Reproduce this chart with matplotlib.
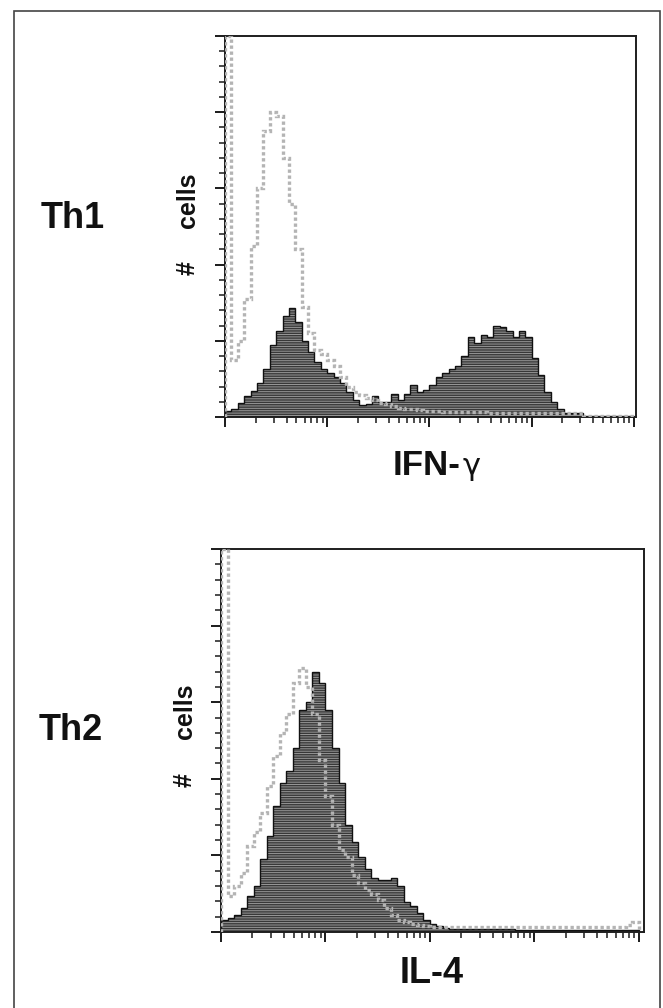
import numpy as np
import matplotlib
matplotlib.use("Agg")
import matplotlib.pyplot as plt
import matplotlib.patches as mpatches
from matplotlib.ticker import MultipleLocator, LogLocator, NullFormatter

plt.rcParams["font.family"] = ["Liberation Sans", "DejaVu Sans"]
plt.rcParams["hatch.linewidth"] = 0.7

# 64 channels over 4 log decades (10^0 .. 10^4); counts in % of axis height
N_BINS = 64

th1_ifng = [1.5, 2.0, 3.8, 5.5, 6.8, 9, 12.5, 19, 22.5, 26.5, 28.5, 25, 20, 17, 14.5, 12.5,
            11.5, 10.5, 9, 6.5, 4.5, 3.2, 3.5, 5.5, 4, 4, 6, 4.5, 6, 8.5, 6.5, 7,
            8.5, 10.5, 11.5, 12.5, 13.3, 16, 21, 19.5, 21.5, 21, 24, 23.5, 22.5, 21, 22.5, 21,
            15.5, 11, 6.5, 4, 2, 1, 1, 1, 0.3, 0.2, 0.2, 0.2, 0.2, 0.2, 0.2, 0.2]
th1_ctrl = [100, 15, 20, 31, 45, 60, 75, 80, 79, 68, 56, 44, 29, 22, 17.5, 16.5,
            15, 13.5, 10.5, 8, 6.5, 5.8, 5, 4.5, 3.8, 3.3, 2.8, 2.4, 2.2, 2, 1.8, 1.5,
            1.5, 1.5, 1.4, 1.4, 1.3, 1.3, 1.3, 1.2, 1.2, 1.0, 1.0, 1.0, 1.0, 1.0, 1.0, 1.0,
            1.0, 1.0, 1.0, 1.0, 1.0, 1.0, 1.0, 1.0, 0.3, 0.3, 0.3, 0.3, 0.3, 0.3, 0.3, 0.3]

th2_il4 = [3.2, 3.7, 4.5, 6.3, 9.3, 12, 19, 25, 33, 39, 42, 48, 58, 60, 68, 65,
           58, 48, 39, 28, 23.5, 19.5, 16.5, 14, 13.6, 13.6, 14, 12, 7.8, 6.7, 5, 3.2,
           2, 1.5, 1.1, 0.9, 0.8, 0.8, 0.7, 0.7, 0.7, 0.7, 0.7, 0.7, 0.7, 0.6, 0.6, 0.6,
           0.6, 0.6, 0.6, 0.6, 0.6, 0.6, 0.6, 0.6, 0.6, 0.6, 0.6, 0.6, 0.6, 0.6, 0.6, 0.6]
th2_ctrl = [100, 9.3, 12, 15.4, 22.5, 26, 31, 38, 46, 52, 57, 65, 69, 64, 57, 45,
            35.5, 28, 21.5, 19.5, 15, 12.7, 11, 10, 8.4, 6.2, 4.5, 3.2, 2.5, 2, 1.8, 1.6,
            1.3, 1.3, 1.3, 1.3, 1.3, 1.3, 1.3, 1.3, 1.3, 1.3, 1.3, 1.3, 1.3, 1.3, 1.3, 1.3,
            1.3, 1.3, 1.3, 1.3, 1.3, 1.3, 1.3, 1.3, 1.3, 1.3, 1.3, 1.3, 1.3, 1.3, 1.8, 2.5]

edges = np.logspace(0, 4, N_BINS + 1)


def draw_hist(ax, pos, ctrl, xmax):
    ax.stairs(pos, edges, fill=True, facecolor="#383838", edgecolor="none", zorder=2)
    ax.stairs(pos, edges, fill=True, facecolor="none", edgecolor="#999999",
              hatch="-------", linewidth=0, zorder=2.1)
    ax.stairs(pos, edges, fill=False, edgecolor="#111111", linewidth=1.0, zorder=2.2)
    ax.stairs(ctrl, edges, fill=False, edgecolor="#b4b4b4", linewidth=2.4,
              linestyle=(0, (1, 0.8)), zorder=3)

    ax.set_xscale("log")
    ax.set_xlim(1, xmax)
    ax.set_ylim(0, 100)
    ax.yaxis.set_major_locator(MultipleLocator(20))
    ax.yaxis.set_minor_locator(MultipleLocator(4))
    ax.xaxis.set_major_locator(LogLocator(base=10))
    ax.xaxis.set_minor_locator(LogLocator(base=10, subs=np.arange(2, 10)))
    ax.xaxis.set_major_formatter(NullFormatter())
    ax.xaxis.set_minor_formatter(NullFormatter())
    ax.yaxis.set_major_formatter(NullFormatter())
    ax.tick_params(which="major", direction="out", length=7.5, width=1.4, color="#1a1a1a")
    ax.tick_params(which="minor", direction="out", length=4.5, width=1.1, color="#1a1a1a")
    for s in ax.spines.values():
        s.set_linewidth(1.4)
        s.set_color("#1e1e1e")


W, H = 663, 1008
fig = plt.figure(figsize=(W / 100, H / 100), dpi=100)

ax1 = fig.add_axes([225 / W, 1 - 417 / H, 411 / W, 381 / H])
draw_hist(ax1, th1_ifng, th1_ctrl, 10 ** 4.02)

ax2 = fig.add_axes([221 / W, 1 - 932 / H, 423 / W, 383 / H])
draw_hist(ax2, th2_il4, th2_ctrl, 10 ** 4.05)

# outer frame
fig.patches.append(mpatches.Rectangle((14 / W, -0.01), 646 / W, 1 - 11 / H + 0.01,
                                      transform=fig.transFigure, fill=False,
                                      edgecolor="#444444", linewidth=1.2))

# panel labels
fig.text(73 / W, 1 - 218 / H, "Th1", fontsize=26, fontweight="bold",
         ha="center", va="center", color="#111111")
fig.text(71 / W, 1 - 731 / H, "Th2", fontsize=26, fontweight="bold",
         ha="center", va="center", color="#111111")

for xc, ycells, yhash in [(188, 200, 268), (185, 711, 780)]:
    fig.text(xc / W, 1 - ycells / H, "cells", fontsize=18, fontweight="bold",
             rotation=90, ha="center", va="center", color="#111111")
    fig.text(xc / W, 1 - yhash / H, "#", fontsize=18, fontweight="bold",
             rotation=90, ha="center", va="center", color="#111111")

# x axis labels
fig.text(393 / W, 1 - 475 / H, "IFN-", fontsize=25, fontweight="bold",
         ha="left", va="baseline", color="#111111")
fig.text(463 / W, 1 - 475 / H, "\u03b3", fontsize=22, family=["DejaVu Sans"],
         ha="left", va="baseline", color="#111111")
fig.text(432 / W, 1 - 983 / H, "IL-4", fontsize=26, fontweight="bold",
         ha="center", va="baseline", color="#111111")

fig.savefig("out.png", dpi=100)
